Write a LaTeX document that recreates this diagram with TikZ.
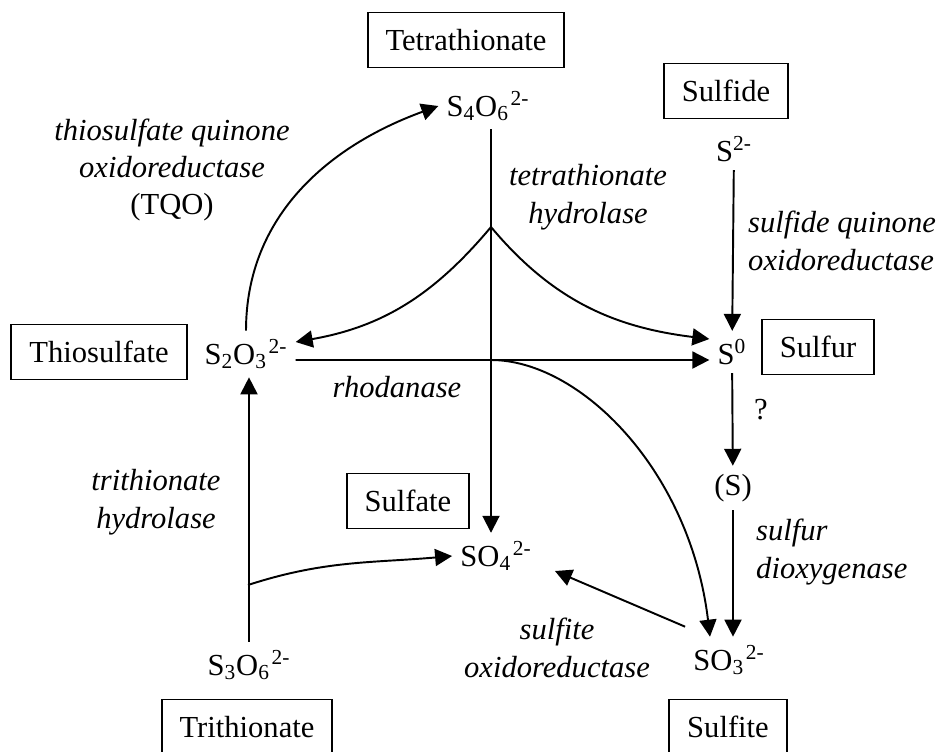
\documentclass[tikz,border=0pt]{standalone}
\usepackage{fontspec}
\setmainfont{Liberation Serif}
\usetikzlibrary{arrows.meta}

\begin{document}
\begin{tikzpicture}[
    x=0.02cm, y=0.02cm,
    font=\fontsize{17.4}{21.3}\selectfont,
    namebox/.style={rectangle, draw, line width=1.1pt, minimum height=1.1cm, inner xsep=0.36cm},
    chem/.style={inner sep=0.16cm},
    enzyme/.style={font=\fontsize{17.4}{21.3}\selectfont\itshape, align=center},
    reaction/.style={-{Triangle[length=0.34cm, width=0.34cm]}, line width=1.1pt},
]
\useasboundingbox (0,0) rectangle (943,-751);

% Name boxes
\node[namebox] (tetrabox) at (466,-40) {Tetrathionate};
\node[namebox] (sulfidebox) at (726,-91) {Sulfide};
\node[namebox] (thiobox) at (99,-352) {Thiosulfate};
\node[namebox] (sulfurbox) at (818,-347) {Sulfur};
\node[namebox] (sulfatebox) at (408,-501) {Sulfate};
\node[namebox] (tribox) at (247,-727) {Trithionate};
\node[namebox] (sulfitebox) at (728,-727) {Sulfite};

% Compounds
\node[chem] (s4o6) at (488,-106) {S\textsubscript{4}O\textsubscript{6}\kern1pt\textsuperscript{2-}};
\node[chem] (s2m) at (734,-149) {S\textsuperscript{2-}};
\node[chem] (s2o3) at (246,-354) {S\textsubscript{2}O\textsubscript{3}\kern1pt\textsuperscript{2-}};
\node[chem] (s0) at (732,-352) {S\textsuperscript{0}};
\node[chem] (sp) at (733,-488) {(S)};
\node[chem] (so4) at (496,-556) {SO\textsubscript{4}\kern1pt\textsuperscript{2-}};
\node[chem] (so3) at (729,-660) {SO\textsubscript{3}\kern1pt\textsuperscript{2-}};
\node[chem] (s3o6) at (249,-665) {S\textsubscript{3}O\textsubscript{6}\kern1pt\textsuperscript{2-}};

% Enzymes
\node[enzyme] (tqo) at (172,-170) {thiosulfate quinone\\oxidoreductase\\\upshape(TQO)};
\node[enzyme] (tth) at (588,-197) {tetrathionate\\hydrolase};
\node[enzyme, align=left, anchor=west] (sqo) at (742,-241) {sulfide quinone\\oxidoreductase};
\node[enzyme] (rho) at (397,-387) {rhodanase};
\node (unk) at (761,-410) {?};
\node[enzyme] (trh) at (156,-502) {trithionate\\hydrolase};
\node[enzyme, align=left, anchor=west] (sdo) at (750,-552) {sulfur\\dioxygenase};
\node[enzyme] (sor) at (557,-648) {sulfite\\oxidoreductase};

% Thiosulfate quinone oxidoreductase
\draw[reaction] (s2o3.north) to[out=90, in=200] (s4o6.west);

% Tetrathionate hydrolase
\coordinate (th) at (491,-227);
\draw[reaction] (s4o6.south -| th) -- (so4.north -| th);
\draw[reaction] (th) to[out=230, in=10] ([shift={(0,12)}]s2o3.east);
\draw[reaction] (th) to[out=-50, in=173] ([shift={(0,13)}]s0.west);

% Rhodanase
\coordinate (rh) at ([shift={(0,-6)}]s2o3.east);
\coordinate (split) at (th |- rh);
\draw[reaction] (rh) -- (rh -| s0.west);
\draw[reaction] (rh) -- (split) .. controls (580,-360) and (690,-470) .. ([shift={(-19,0)}]so3.north);

% Trithionate hydrolase
\draw[reaction] (s3o6.north) -- (s3o6.north |- s2o3.south);
\coordinate (br) at (248,-585);
\draw[reaction] (br) to[out=18, in=185] (so4.west);

% Sulfide, sulfur and sulfite
\draw[reaction] (s2m) -- (s0);
\draw[reaction] (s0) -- (sp);
\draw[reaction] (sp) -- (sp |- so3.north);
\draw[reaction] ([shift={(0,10)}]so3.north west) -- ([shift={(15,-15)}]so4.east);

\end{tikzpicture}
\end{document}
